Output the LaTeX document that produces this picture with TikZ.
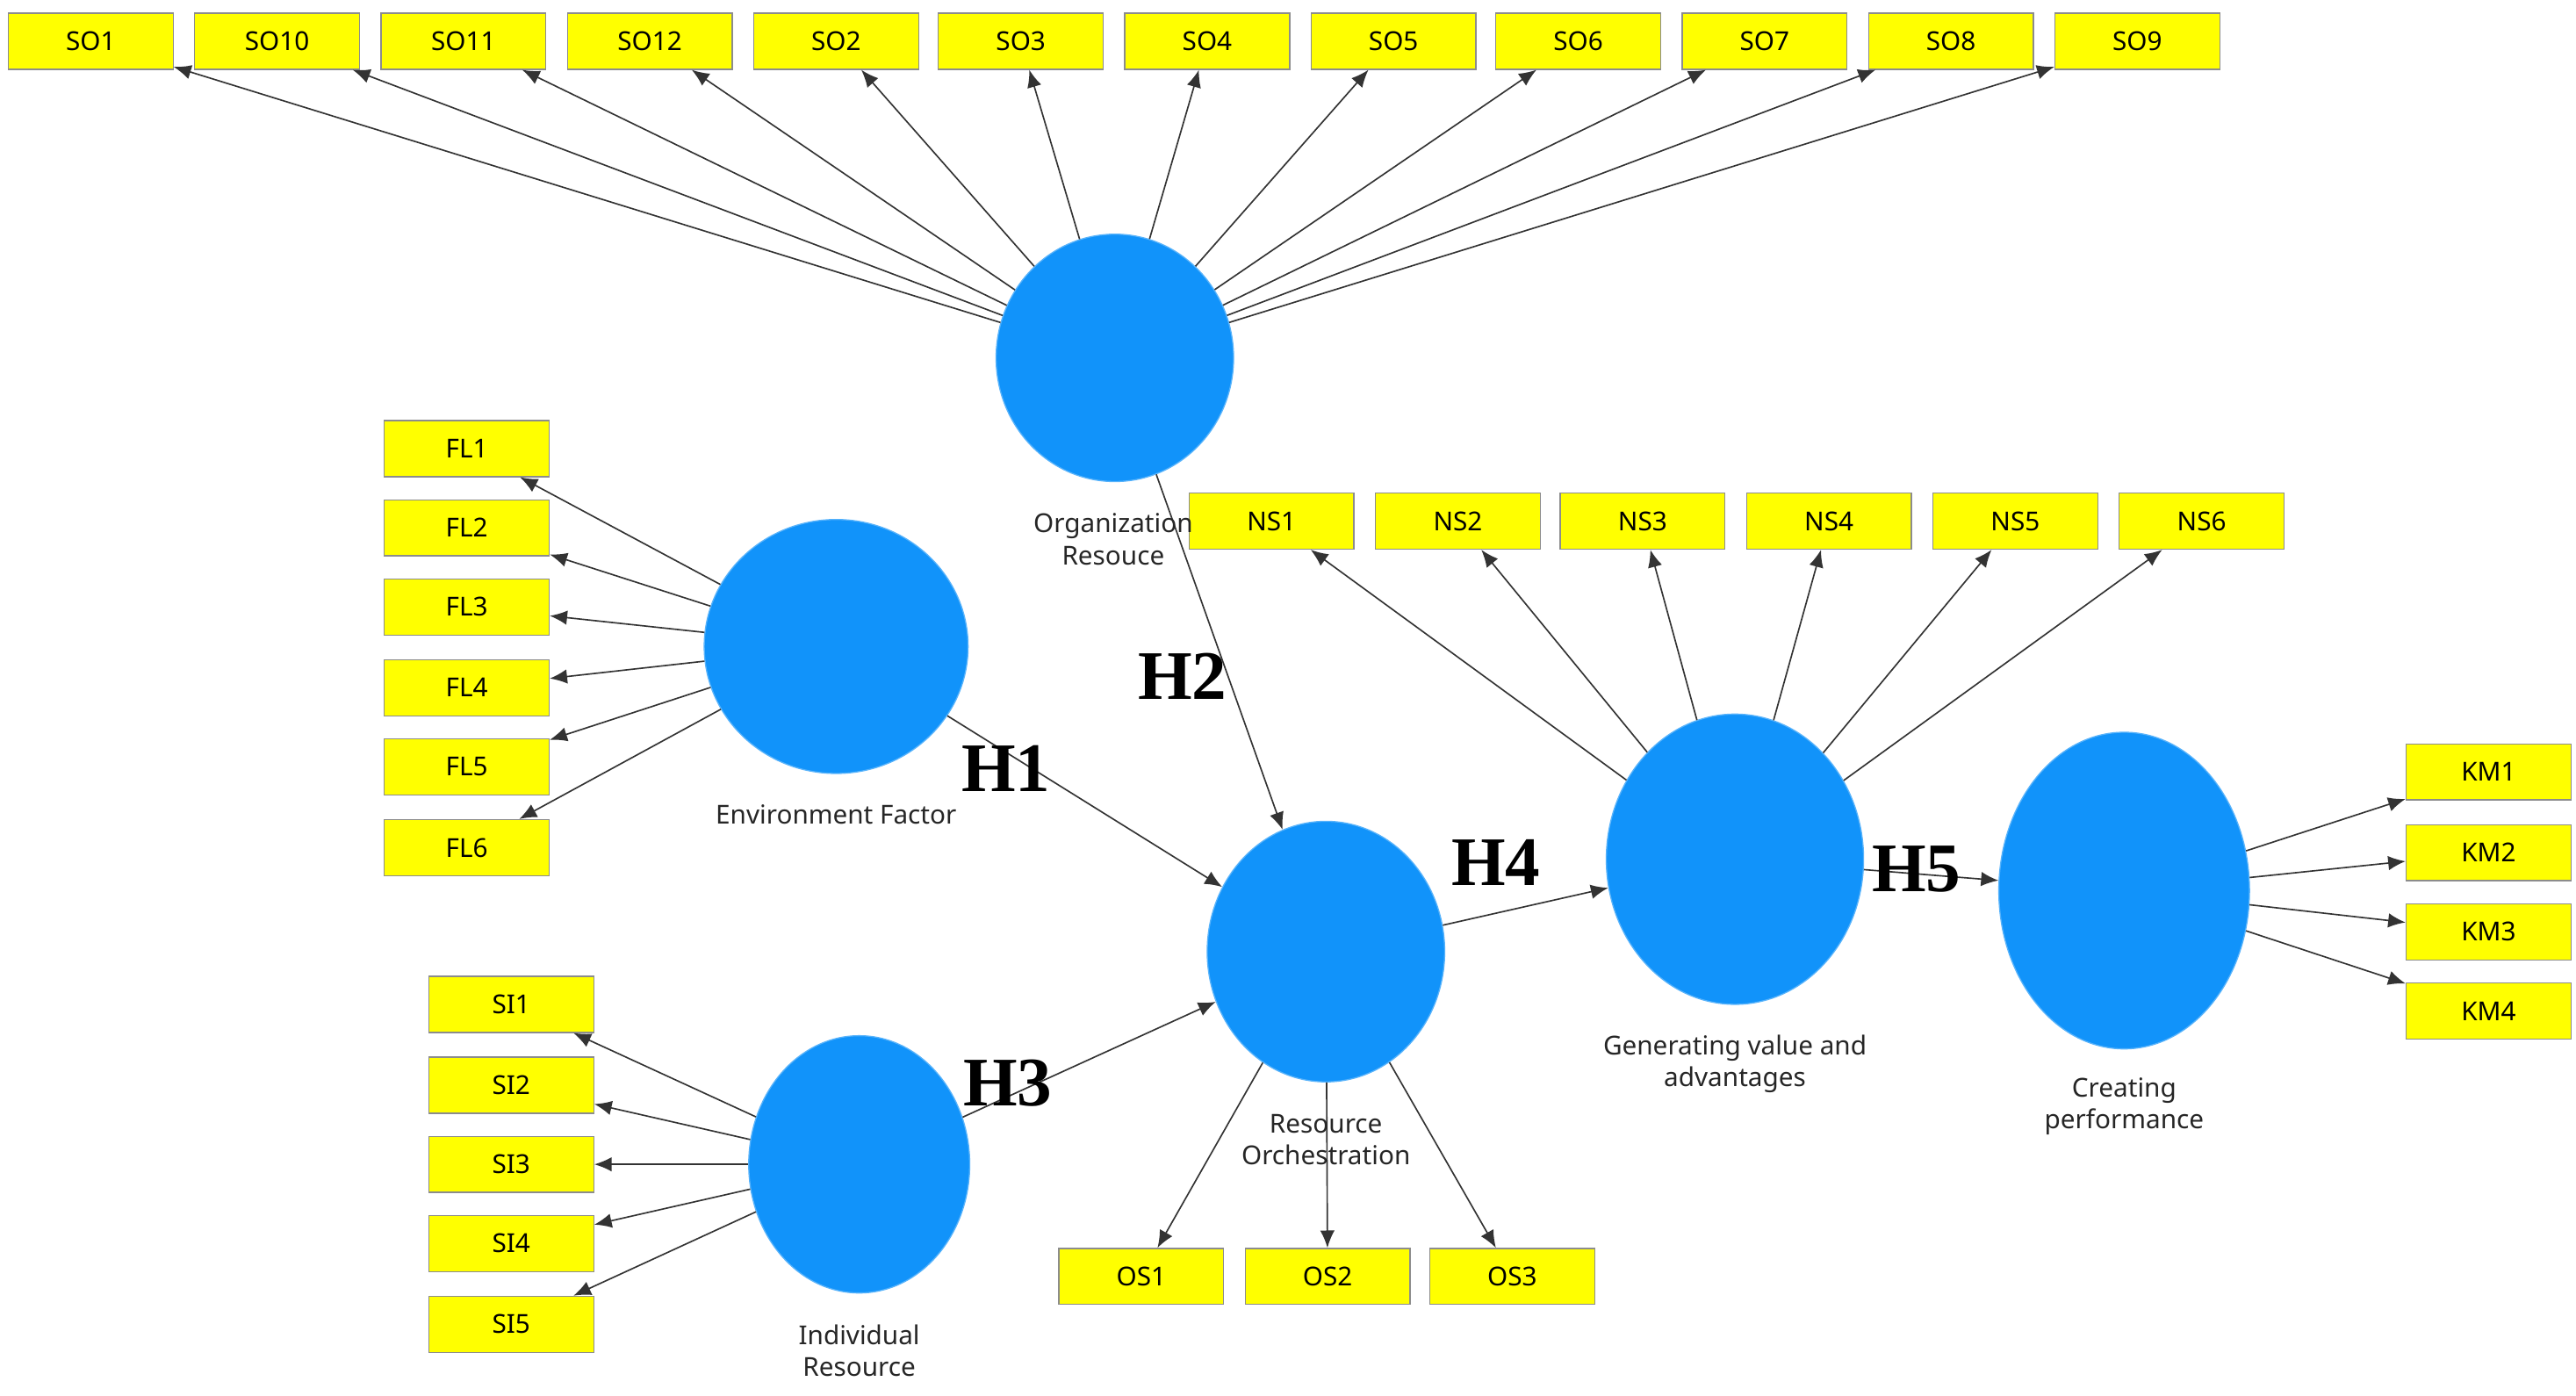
\documentclass[tikz,border=0pt]{standalone}
\usepackage{fontspec}
\setmainfont{Noto Sans}
\newfontfamily\hfont{Liberation Serif}
\usetikzlibrary{arrows.meta,shapes.geometric}
\definecolor{lv}{HTML}{1193FA}
\definecolor{ind}{HTML}{FFFF00}
\begin{document}
\begin{tikzpicture}[x=0.02cm,y=-0.02cm,
 box/.style={draw=black!45,fill=ind,minimum width=2cm,minimum height=0.68cm,inner sep=0pt,font=\fontsize{9}{10}\selectfont},
 lat/.style={ellipse,fill=lv,draw=lv!70!white,inner sep=0pt},
 arr/.style={-{Latex[length=6pt,width=5pt]},black!80,line width=0.5pt},
 lab/.style={align=center,font=\fontsize{9}{11}\selectfont,text=black!85},
 hl/.style={font=\hfont\bfseries\fontsize{24}{24}\selectfont}]
\useasboundingbox (0,0) rectangle (1562,846);
% latent variables
\node[lat,minimum width=144*0.02cm,minimum height=150*0.02cm] (OR) at (676,217) {};
\node[lat,minimum width=160*0.02cm,minimum height=154*0.02cm] (EF) at (507,392) {};
\node[lat,minimum width=134*0.02cm,minimum height=156*0.02cm] (IR) at (521,706) {};
\node[lat,minimum width=144*0.02cm,minimum height=158*0.02cm] (RO) at (804,577) {};
\node[lat,minimum width=156*0.02cm,minimum height=176*0.02cm] (GV) at (1052,521) {};
\node[lat,minimum width=152*0.02cm,minimum height=192*0.02cm] (CP) at (1288,540) {};
% SO
\foreach \n/\x in {SO1/55,SO10/168,SO11/281,SO12/394,SO2/507,SO3/619,SO4/732,SO5/845,SO6/957,SO7/1070,SO8/1183,SO9/1296}{
 \node[box] (\n) at (\x,25) {\n};
 \draw[arr] (OR) -- (\n);}
\foreach \i/\y in {1/272,2/320,3/368,4/417,5/465,6/514}{
 \node[box] (FL\i) at (283,\y) {FL\i};
 \draw[arr] (EF) -- (FL\i);}
\foreach \i/\y in {1/609,2/658,3/706,4/754,5/803}{
 \node[box] (SI\i) at (310,\y) {SI\i};
 \draw[arr] (IR) -- (SI\i);}
\foreach \i/\x in {1/692,2/805,3/917}{
 \node[box] (OS\i) at (\x,774) {OS\i};
 \draw[arr] (RO) -- (OS\i);}
\foreach \i/\x in {1/771,2/884,3/996,4/1109,5/1222,6/1335}{
 \node[box] (NS\i) at (\x,316) {NS\i};
 \draw[arr] (GV) -- (NS\i);}
\foreach \i/\y in {1/468,2/517,3/565,4/613}{
 \node[box] (KM\i) at (1509,\y) {KM\i};
 \draw[arr] (CP) -- (KM\i);}
% structural
\draw[arr] (EF) -- (RO);
\draw[arr] (OR) -- (RO);
\draw[arr] (IR) -- (RO);
\draw[arr] (RO) -- (GV);
\draw[arr] (GV) -- (CP);
% labels
\node[lab] (lOR) at (675,327) {Organization\\Resouce};
\node[lab] (lEF) at (507,494) {Environment Factor};
\node[lab] (lIR) at (521,819) {Individual\\Resource};
\node[lab] (lRO) at (804,691) {Resource\\Orchestration};
\node[lab] (lGV) at (1052,645) {Generating value and\\advantages};
\node[lab] (lCP) at (1288,671) {Creating\\performance};
\node[hl] (H1) at (610,466) {H1};
\node[hl] (H2) at (717,410) {H2};
\node[hl] (H3) at (611,657) {H3};
\node[hl] (H4) at (907,523) {H4};
\node[hl] (H5) at (1162,527) {H5};
\end{tikzpicture}
\end{document}
